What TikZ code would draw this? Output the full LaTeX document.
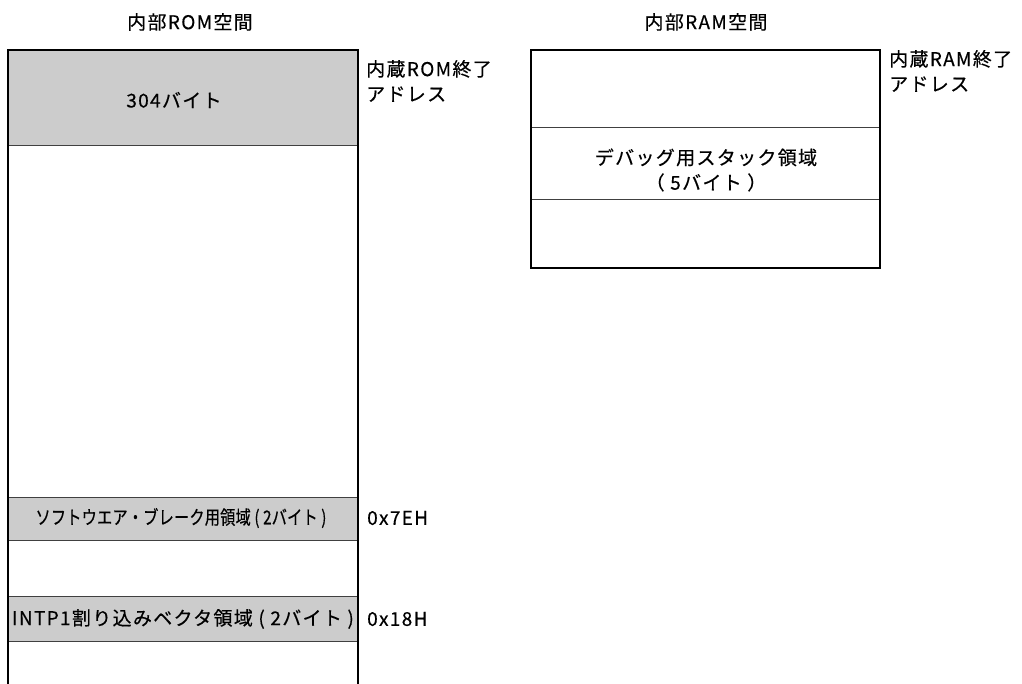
\documentclass[tikz,border=0pt]{standalone}
\usepackage{fontspec}
\setmainfont{Noto Sans CJK JP}[LetterSpace=7,FakeBold=0.4]
\newfontfamily\condfont{Noto Sans CJK JP}[FakeStretch=0.8,FakeBold=0.4,LetterSpace=1]
\tikzset{
  outer/.style={line width=2pt, draw=black},
  inner/.style={line width=1pt, draw=black!75},
  grayfill/.style={fill=black!20},
  lbl/.style={inner sep=0pt, font=\fontsize{19}{25}\selectfont},
  lbll/.style={lbl, anchor=west, align=left},
}
\begin{document}
\begin{tikzpicture}[x=1pt,y=-1pt]
\useasboundingbox (0,0) rectangle (1022,684);
% ROM
\fill[grayfill] (8,50) rectangle (358,146);
\fill[grayfill] (8,497) rectangle (358,540);
\fill[grayfill] (8,596) rectangle (358,641);
\draw[inner] (8,146) -- (358,146);
\draw[inner] (8,497) -- (358,497);
\draw[inner] (8,540) -- (358,540);
\draw[inner] (8,596) -- (358,596);
\draw[inner] (8,641) -- (358,641);
\draw[outer] (8,684) -- (8,50) -- (358,50) -- (358,684);
% RAM
\draw[inner] (531,128) -- (880,128);
\draw[inner] (531,200) -- (880,200);
\draw[outer] (531,50) rectangle (880,268);
% texts
\node[lbl] (romt) at (190,22) {内部ROM空間};
\node[lbl] (ramt) at (706,22) {内部RAM空間};
\node[lbl] (b304) at (174,100) {304バイト};
\node[lbll] (romend) at (366,81) {内蔵ROM終了\\アドレス};
\node[lbll] (ramend) at (889,71) {内蔵RAM終了\\アドレス};
\node[lbl, align=center] (stack) at (706,170) {デバッグ用スタック領域\\（ 5バイト ）};
\node[lbll] (a7e) at (367,518) {0x7EH};
\node[lbll] (a18) at (367,619) {0x18H};
\node[lbl, font=\fontsize{19}{25}\condfont] (soft) at (181,518) {ソフトウエア・ブレーク用領域 ( 2バイト )};
\node[lbl] (intp) at (183,619) {INTP1割り込みベクタ領域 ( 2バイト )};
\end{tikzpicture}
\end{document}
